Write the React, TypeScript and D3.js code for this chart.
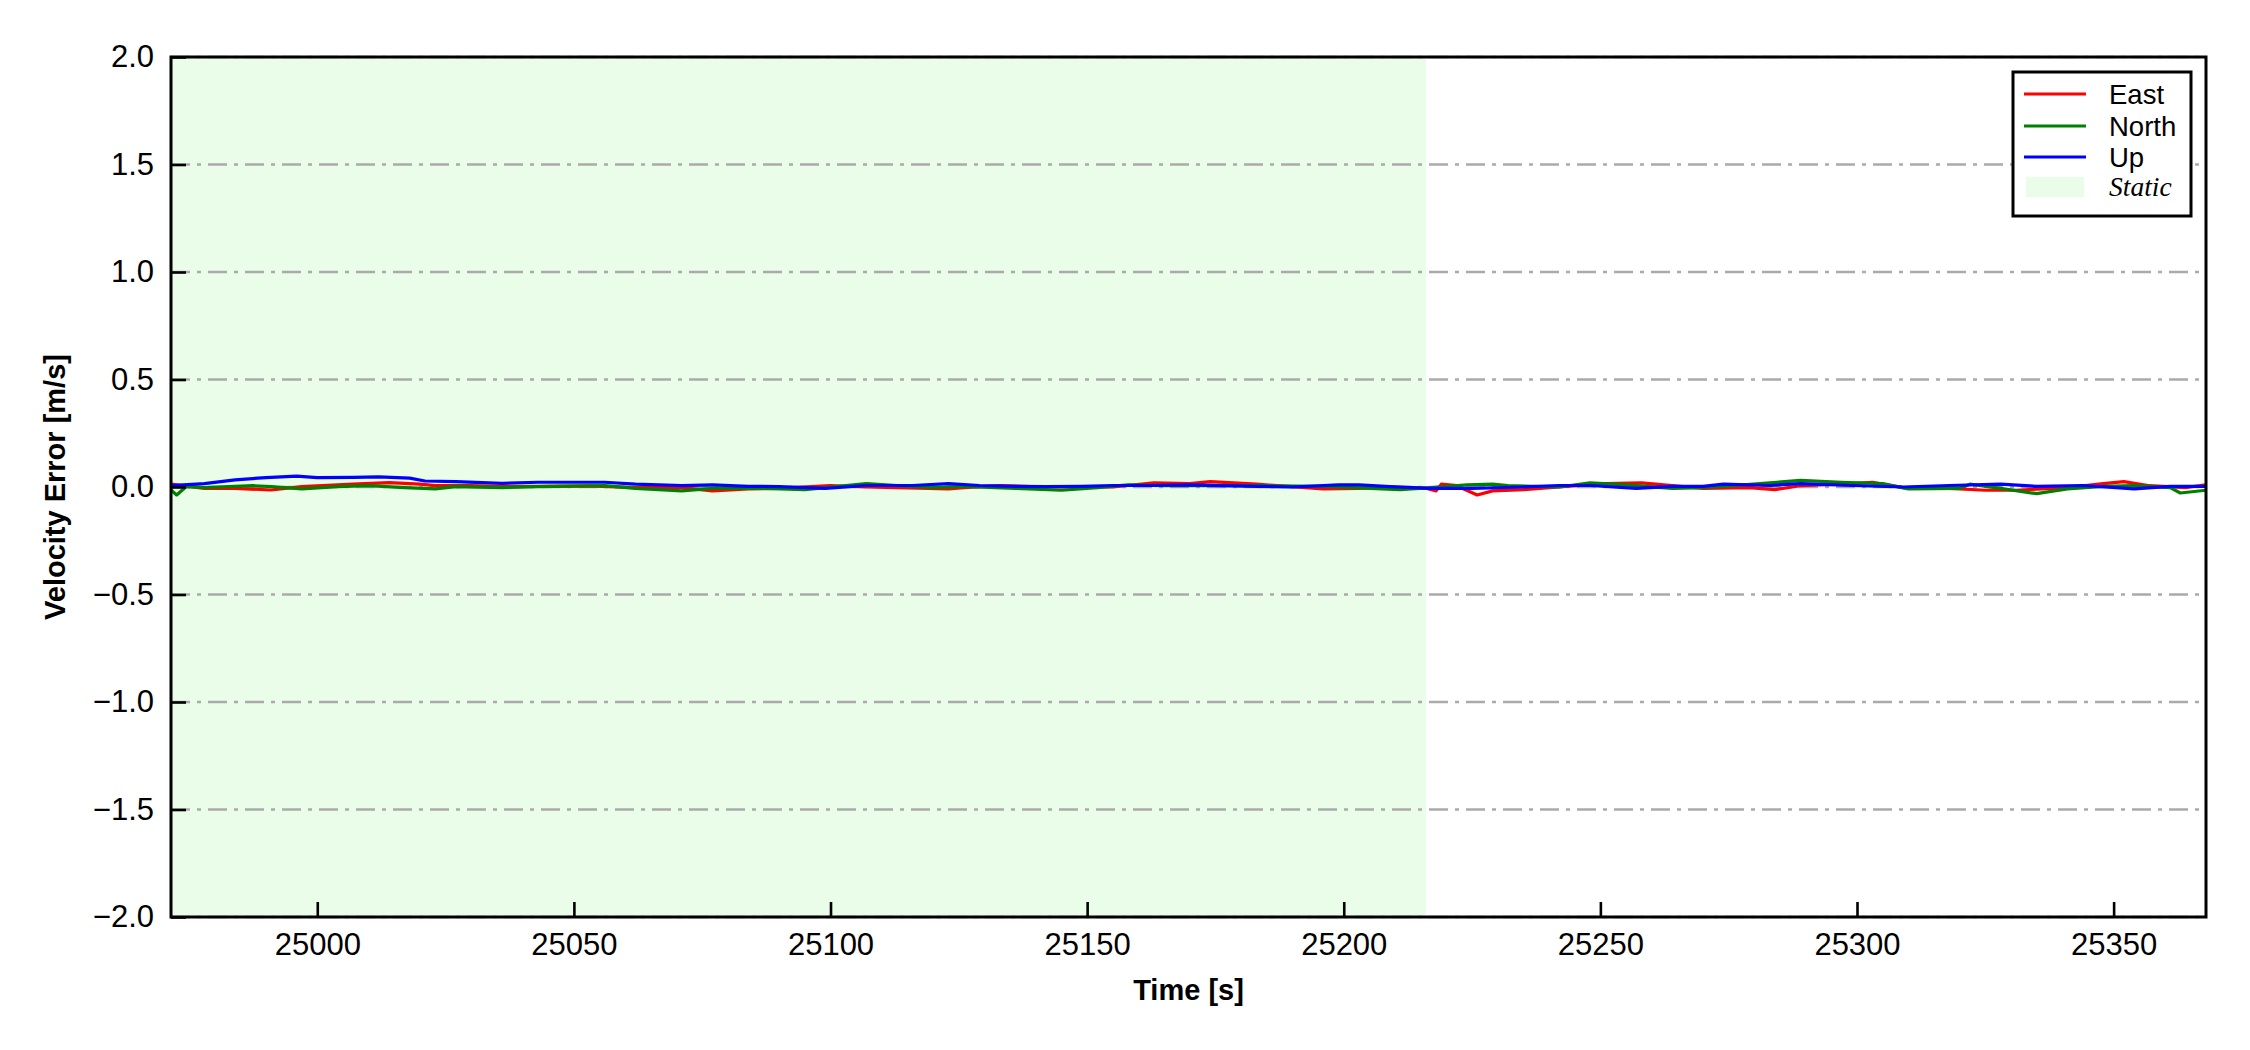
import React, { useRef, useEffect } from 'react';
import * as d3 from 'd3';

// velocity error samples [time s, error m/s]
const eastData: [number, number][] = [
  [24971.5, 0.013], [24978, -0.006], [24984, -0.006], [24991, -0.014], [24997, 0.002],
  [25007, 0.013], [25014, 0.02], [25020, 0.013], [25023, 0.006], [25030, 0.006],
  [25036, 0.002], [25053, 0.005], [25062, -0.003], [25071, -0.003], [25077, -0.018],
  [25084, -0.009], [25090, -0.006], [25100, 0.006], [25107, 0.0], [25113, -0.003],
  [25123, -0.009], [25126, -0.003], [25133, 0.006], [25142, 0.0], [25155, 0.0],
  [25163, 0.019], [25170, 0.016], [25174, 0.025], [25183, 0.013], [25196, -0.009],
  [25203, -0.006], [25209, 0.0], [25216, -0.006], [25218, -0.018], [25219, 0.013],
  [25222, 0.006], [25226, -0.037], [25229, -0.018], [25235, -0.012], [25242, 0.0],
  [25251, 0.016], [25258, 0.019], [25264, 0.006], [25270, -0.006], [25279, -0.003],
  [25284, -0.012], [25289, 0.006], [25299, 0.016], [25303, 0.022], [25309, -0.003],
  [25318, -0.006], [25325, -0.015], [25331, -0.015], [25341, -0.003], [25348, 0.016],
  [25352, 0.025], [25357, 0.006], [25364, -0.003], [25368, 0.01],
];

const northData: [number, number][] = [
  [24971.5, -0.014], [24972.6, -0.037], [24974.5, 0.002], [24978, -0.003], [24987.5, 0.006],
  [24991, 0.002], [24997, -0.009], [25004, 0.002], [25010, 0.006], [25017, -0.003],
  [25023, -0.009], [25027, 0.002], [25036, -0.003], [25043, 0.002], [25056, 0.006],
  [25062, -0.006], [25071, -0.018], [25077, -0.006], [25087, -0.006], [25095, -0.012],
  [25107, 0.016], [25113, 0.006], [25120, -0.003], [25126, 0.003], [25136, -0.006],
  [25145, -0.015], [25152, -0.003], [25158, 0.01], [25165, 0.006], [25170, 0.006],
  [25183, 0.006], [25196, 0.003], [25211, -0.012], [25217, -0.003], [25224, 0.01],
  [25229, 0.013], [25232, 0.006], [25242, 0.0], [25248, 0.019], [25255, 0.01],
  [25264, -0.006], [25270, -0.003], [25276, 0.006], [25283, 0.019], [25289, 0.031],
  [25297, 0.022], [25305, 0.016], [25310, -0.009], [25320, -0.006], [25322, 0.013],
  [25328, -0.006], [25335, -0.031], [25341, -0.009], [25348, 0.003], [25354, 0.006],
  [25361, -0.003], [25363, -0.028], [25368, -0.015],
];

const upData: [number, number][] = [
  [24971.5, 0.006], [24978, 0.016], [24984, 0.033], [24990, 0.044], [24996, 0.051],
  [25000, 0.044], [25007, 0.045], [25012, 0.047], [25018, 0.041], [25021, 0.028],
  [25027, 0.025], [25036, 0.017], [25043, 0.022], [25056, 0.022], [25062, 0.013],
  [25071, 0.006], [25077, 0.01], [25084, 0.003], [25090, 0.002], [25099, -0.006],
  [25107, 0.007], [25116, 0.007], [25123, 0.016], [25129, 0.007], [25136, 0.003],
  [25142, 0.002], [25149, 0.003], [25155, 0.007], [25162, 0.007], [25170, 0.01],
  [25183, 0.003], [25190, 0.0], [25199, 0.01], [25203, 0.01], [25209, 0.002],
  [25217, -0.006], [25225, -0.006], [25235, 0.0], [25242, 0.007], [25248, 0.007],
  [25257, -0.006], [25264, 0.003], [25270, 0.003], [25274, 0.013], [25283, 0.007],
  [25289, 0.016], [25299, 0.007], [25309, 0.0], [25318, 0.007], [25328, 0.013],
  [25335, 0.003], [25344, 0.007], [25354, -0.009], [25361, 0.003], [25368, 0.003],
];

const seriesNames = ['East', 'North', 'Up'];
const seriesColors = ['#ff0000', '#008000', '#0000ff'];
const staticSpan = [24971.5, 25216];
const xDomain = [24971.5, 25368];
const yDomain = [-2, 2];
const xTicks = [25000, 25050, 25100, 25150, 25200, 25250, 25300, 25350];
const yTicks = [-2, -1.5, -1, -0.5, 0, 0.5, 1, 1.5, 2];

const App = () => {
  const svgRef = useRef<SVGSVGElement>(null);

  useEffect(() => {
    const svg = d3.select(svgRef.current);
    svg.selectAll('*').remove();

    const margin = { top: 57, right: 44, bottom: 133, left: 171 };
    const W = 2250;
    const H = 1050;
    const width = W - margin.left - margin.right;
    const height = H - margin.top - margin.bottom;
    const font = "'Liberation Sans', Arial, sans-serif";

    const x = d3.scaleLinear().domain(xDomain).range([0, width]);
    const y = d3.scaleLinear().domain(yDomain).range([height, 0]);

    svg.append('rect').attr('width', W).attr('height', H).attr('fill', '#fff');

    const g = svg.append('g').attr('transform', `translate(${margin.left},${margin.top})`);

    svg.append('defs').append('clipPath').attr('id', 'plot-clip')
      .append('rect').attr('width', width).attr('height', height);

    // static period shading
    g.append('rect')
      .attr('x', x(staticSpan[0]))
      .attr('y', 0)
      .attr('width', x(staticSpan[1]) - x(staticSpan[0]))
      .attr('height', height)
      .attr('fill', '#e9fde9');

    // horizontal dash-dot grid
    g.append('g').selectAll('line')
      .data(yTicks)
      .enter().append('line')
      .attr('x1', 0).attr('x2', width)
      .attr('y1', d => y(d)).attr('y2', d => y(d))
      .attr('stroke', '#aaaaaa')
      .attr('stroke-width', 2.4)
      .attr('stroke-dasharray', '19,7,4,7');

    // series
    const line = d3.line<[number, number]>()
      .x(d => x(d[0]))
      .y(d => y(d[1]));

    const lines = g.append('g').attr('clip-path', 'url(#plot-clip)');
    [eastData, northData, upData].forEach((data, i) => {
      lines.append('path')
        .datum(data)
        .attr('fill', 'none')
        .attr('stroke', seriesColors[i])
        .attr('stroke-width', 3.2)
        .attr('stroke-linejoin', 'round')
        .attr('d', line);
    });

    // axes with inward ticks
    const xAxis = g.append('g')
      .attr('transform', `translate(0,${height})`)
      .call(d3.axisBottom(x).tickValues(xTicks).tickFormat(d3.format('d')).tickSizeInner(-15).tickSizeOuter(0).tickPadding(16));
    const yAxis = g.append('g')
      .call(d3.axisLeft(y).tickValues(yTicks).tickFormat(d3.format('.1f')).tickSizeInner(-15).tickSizeOuter(0).tickPadding(17));

    [xAxis, yAxis].forEach(ax => {
      ax.select('.domain').remove();
      ax.selectAll('.tick line').attr('stroke', '#000').attr('stroke-width', 2.6);
      ax.selectAll('.tick text')
        .attr('font-family', font)
        .attr('font-size', 31)
        .attr('fill', '#000');
    });
    xAxis.selectAll('.tick text').attr('dy', '0.71em');

    // frame
    g.append('rect')
      .attr('width', width).attr('height', height)
      .attr('fill', 'none')
      .attr('stroke', '#000')
      .attr('stroke-width', 3);

    // axis labels
    svg.append('text')
      .attr('x', margin.left + width / 2)
      .attr('y', 1000)
      .attr('text-anchor', 'middle')
      .attr('font-family', font)
      .attr('font-weight', 'bold')
      .attr('font-size', 29)
      .text('Time [s]');

    svg.append('text')
      .attr('transform', `translate(65,${margin.top + height / 2}) rotate(-90)`)
      .attr('text-anchor', 'middle')
      .attr('font-family', font)
      .attr('font-weight', 'bold')
      .attr('font-size', 29)
      .text('Velocity Error [m/s]');

    // legend
    const lg = svg.append('g').attr('transform', 'translate(2013,72)');
    lg.append('rect')
      .attr('width', 178).attr('height', 144)
      .attr('fill', '#fff')
      .attr('stroke', '#000')
      .attr('stroke-width', 3);

    const rowY = [22, 54, 85, 115];
    seriesNames.forEach((name, i) => {
      lg.append('line')
        .attr('x1', 11).attr('x2', 73)
        .attr('y1', rowY[i]).attr('y2', rowY[i])
        .attr('stroke', seriesColors[i])
        .attr('stroke-width', 3.2);
      lg.append('text')
        .attr('x', 96).attr('y', rowY[i] + 10)
        .attr('font-family', font)
        .attr('font-size', 27.5)
        .text(name);
    });
    lg.append('rect')
      .attr('x', 13).attr('y', rowY[3] - 10)
      .attr('width', 58).attr('height', 20)
      .attr('fill', '#e9fde9');
    lg.append('text')
      .attr('x', 96).attr('y', rowY[3] + 9)
      .attr('font-family', "'Liberation Serif', 'Times New Roman', serif")
      .attr('font-style', 'italic')
      .attr('font-size', 27.5)
      .text('Static');
  }, []);

  return (
    <div style={{ position: 'absolute', left: 0, top: 0 }}>
      <svg ref={svgRef} width={2250} height={1050} style={{ display: 'block' }} />
    </div>
  );
};

export default App;
